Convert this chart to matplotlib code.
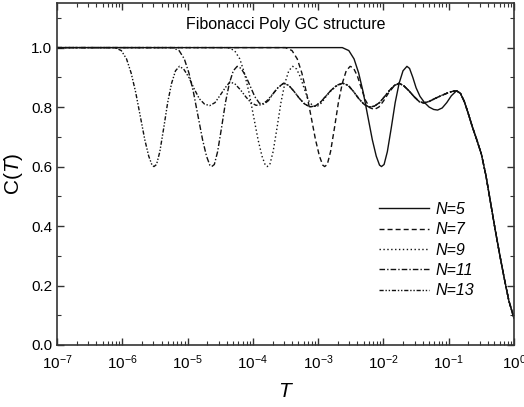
import numpy as np
import matplotlib
matplotlib.use("Agg")
import matplotlib.pyplot as plt

plt.rcParams['font.family'] = ['Liberation Sans', 'DejaVu Sans']
plt.rcParams['mathtext.fontset'] = 'custom'
plt.rcParams['mathtext.rm'] = 'Liberation Sans'
plt.rcParams['mathtext.it'] = 'Liberation Sans:italic'

# values; x stored as log10(T)
# shared oscillation pieces and the common tail
wave_a_x = [-4.35, -4.27, -4.19, -4.11, -4.03, -3.95, -3.87, -3.79, -3.71, -3.62]
wave_a_c = [0.885, 0.877, 0.858, 0.835, 0.815, 0.806, 0.808, 0.820, 0.840, 0.864]
wave_b_x = [-3.53, -3.45, -3.37, -3.29, -3.21, -3.13, -3.05, -2.97, -2.89, -2.80, -2.71]
wave_b_c = [0.880, 0.873, 0.853, 0.830, 0.811, 0.801, 0.803, 0.815, 0.835, 0.857, 0.874]
wave_c_x = [-2.62, -2.54, -2.46, -2.38, -2.30, -2.22, -2.14, -2.06, -1.98, -1.90, -1.83]
wave_c_c = [0.880, 0.873, 0.853, 0.829, 0.810, 0.800, 0.803, 0.815, 0.836, 0.858, 0.873]
wave_d_x = [-1.76, -1.69, -1.61, -1.53, -1.45, -1.38, -1.30, -1.20, -1.10, -1.00, -0.94, -0.88]
wave_d_c = [0.880, 0.872, 0.855, 0.835, 0.818, 0.814, 0.819, 0.830, 0.840, 0.849, 0.853, 0.855]
tail_x = [-0.82, -0.76, -0.70, -0.64, -0.57, -0.50, -0.43, -0.36, -0.29, -0.22, -0.15, -0.08, 0.0]
tail_c = [0.846, 0.818, 0.778, 0.735, 0.690, 0.642, 0.570, 0.480, 0.390, 0.305, 0.225, 0.150, 0.090]

# own part of every curve: plateau, dip, first peak
n5_x = [-7.0, -2.63, -2.53, -2.45, -2.38, -2.31, -2.24, -2.17, -2.11, -2.06, -2.03, -1.99, -1.94,
        -1.88, -1.82, -1.76, -1.70, -1.64, -1.60, -1.55, -1.50, -1.44, -1.37, -1.30, -1.23, -1.17,
        -1.10, -1.03, -0.96, -0.88]
n5_c = [1.0, 1.0, 0.990, 0.962, 0.915, 0.850, 0.770, 0.690, 0.635, 0.605, 0.600, 0.607, 0.650,
        0.730, 0.815, 0.880, 0.922, 0.937, 0.930, 0.900, 0.865, 0.836, 0.815, 0.800, 0.792, 0.790,
        0.797, 0.815, 0.838, 0.855]
n7_x = [-7.0, -3.50, -3.40, -3.32, -3.25, -3.18, -3.11, -3.04, -2.98, -2.93, -2.90, -2.86, -2.81,
        -2.75, -2.69, -2.63, -2.57, -2.51, -2.46, -2.40, -2.34, -2.28, -2.21, -2.14, -2.07, -2.00,
        -1.92, -1.84]
n7_c = [1.0, 1.0, 0.990, 0.962, 0.915, 0.850, 0.770, 0.690, 0.635, 0.605, 0.600, 0.607, 0.650,
        0.730, 0.815, 0.880, 0.922, 0.937, 0.932, 0.905, 0.865, 0.825, 0.798, 0.792, 0.800, 0.820,
        0.848, 0.870]
n9_x = [-7.0, -4.38, -4.28, -4.20, -4.13, -4.06, -3.99, -3.92, -3.86, -3.81, -3.78, -3.74, -3.69,
        -3.63, -3.57, -3.51, -3.45, -3.39, -3.33, -3.27, -3.21, -3.15, -3.08, -3.01, -2.95, -2.88,
        -2.80, -2.71]
n9_c = [1.0, 1.0, 0.990, 0.962, 0.915, 0.850, 0.770, 0.690, 0.635, 0.605, 0.600, 0.607, 0.650,
        0.730, 0.815, 0.880, 0.922, 0.937, 0.928, 0.900, 0.860, 0.823, 0.803, 0.803, 0.814, 0.835,
        0.856, 0.872]
n11_x = [-7.0, -5.23, -5.13, -5.05, -4.98, -4.91, -4.84, -4.77, -4.71, -4.66, -4.63, -4.59, -4.54,
         -4.48, -4.42, -4.36, -4.30, -4.24, -4.18, -4.11, -4.04, -3.97, -3.90, -3.83, -3.76, -3.69,
         -3.61]
n11_c = [1.0, 1.0, 0.990, 0.962, 0.915, 0.850, 0.770, 0.690, 0.635, 0.605, 0.600, 0.607, 0.650,
         0.730, 0.815, 0.880, 0.922, 0.937, 0.930, 0.905, 0.870, 0.835, 0.813, 0.810, 0.822, 0.845,
         0.867]
n13_x = [-7.0, -6.115, -6.015, -5.935, -5.865, -5.795, -5.725, -5.655, -5.595, -5.545, -5.515,
         -5.475, -5.425, -5.365, -5.305, -5.245, -5.185, -5.125, -5.06, -4.98, -4.90, -4.82, -4.74,
         -4.66, -4.58, -4.50, -4.42]
n13_c = [1.0, 1.0, 0.990, 0.962, 0.915, 0.850, 0.770, 0.690, 0.635, 0.605, 0.600,
         0.607, 0.650, 0.730, 0.815, 0.880, 0.922, 0.937, 0.928, 0.900, 0.862, 0.828, 0.810,
         0.805, 0.815, 0.840, 0.866]

curves = [
    ("N=5", n5_x + tail_x, n5_c + tail_c, "-"),
    ("N=7", n7_x + wave_d_x + tail_x, n7_c + wave_d_c + tail_c, (0, (3.6, 2.2))),
    ("N=9", n9_x + wave_c_x + wave_d_x + tail_x, n9_c + wave_c_c + wave_d_c + tail_c, (0, (1, 1.8))),
    ("N=11", n11_x + wave_b_x + wave_c_x + wave_d_x + tail_x,
     n11_c + wave_b_c + wave_c_c + wave_d_c + tail_c, (0, (4, 1.5, 1, 1.5))),
    ("N=13", n13_x + wave_a_x + wave_b_x + wave_c_x + wave_d_x + tail_x,
     n13_c + wave_a_c + wave_b_c + wave_c_c + wave_d_c + tail_c, (0, (3, 1.3, 1, 1.3, 1, 1.3))),
]

fig = plt.figure(figsize=(5.24, 4.07), dpi=100)
ax = fig.add_axes([57 / 524, 1 - 345 / 407, 457 / 524, 342 / 407])

for label, x, c, ls in curves:
    ax.plot(np.power(10.0, x), c, color="#111111", lw=1.0, ls=ls, label=label)

ax.set_xscale("log")
ax.set_xlim(1e-7, 1)
ax.set_ylim(0, 1.15)
ax.set_xticks([1e-7, 1e-6, 1e-5, 1e-4, 1e-3, 1e-2, 1e-1, 1])
ax.set_xticklabels([r"$10^{-7}$", r"$10^{-6}$", r"$10^{-5}$", r"$10^{-4}$",
                    r"$10^{-3}$", r"$10^{-2}$", r"$10^{-1}$", r"$10^{0}$"])
ax.xaxis.set_minor_locator(matplotlib.ticker.LogLocator(base=10, subs=np.arange(2, 10), numticks=20))
ax.xaxis.set_minor_formatter(matplotlib.ticker.NullFormatter())
ax.set_yticks([0.0, 0.2, 0.4, 0.6, 0.8, 1.0])
ax.set_yticklabels(["0.0", "0.2", "0.4", "0.6", "0.8", "1.0"])
ax.yaxis.set_minor_locator(matplotlib.ticker.MultipleLocator(0.1))

ax.tick_params(which="both", direction="in", top=True, right=True, labelsize=11, color="#333333")
ax.tick_params(which="major", length=5, width=1)
ax.tick_params(which="minor", length=3, width=0.8)
ax.tick_params(axis="x", which="major", pad=6)
for s in ax.spines.values():
    s.set_linewidth(1.2)
    s.set_color("#333333")

ax.text(0.5, 0.96, "Fibonacci Poly GC structure", transform=ax.transAxes,
        ha="center", va="top", fontsize=11.5)
ax.set_xlabel(r"$\it{T}$", fontsize=15, labelpad=7)
ax.set_ylabel(r"C($\it{T}$)", fontsize=15, labelpad=4)

leg = ax.legend(loc="upper left", bbox_to_anchor=(0.705, 0.418), frameon=False,
                prop={"size": 11.5, "style": "italic"}, handlelength=3.1,
                handletextpad=0.4, labelspacing=0.33, borderpad=0, borderaxespad=0)

fig.savefig("out.png", dpi=100)
